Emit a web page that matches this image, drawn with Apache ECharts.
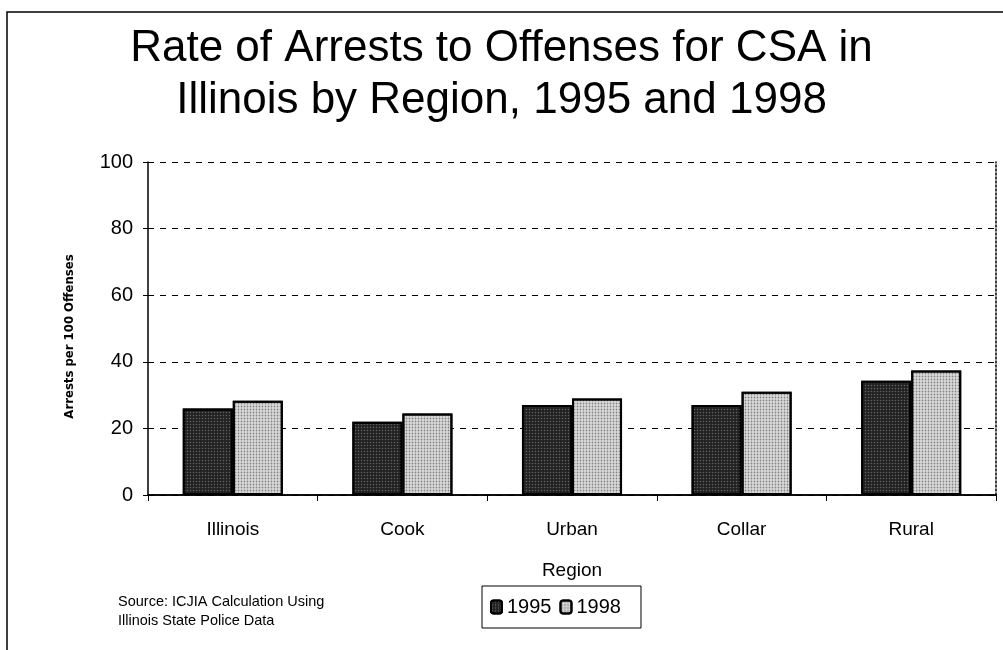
<!DOCTYPE html>
<html>
<head>
<meta charset="utf-8">
<script src="https://cdn.jsdelivr.net/npm/echarts@6/dist/echarts.min.js"></script>
<style>
	html, body { margin: 0; padding: 0; background: #fff; }
	#chart { width: 1003px; height: 650px; }
</style>
</head>
<body>
<div id="chart"></div>
<script>
// 数据
var regions = ['Illinois', 'Cook', 'Urban', 'Collar', 'Rural'];
var rate1995 = [26, 22, 27, 27, 34.3];
var rate1998 = [28.3, 24.5, 29, 31, 37.4];
var yTicks = [0, 20, 40, 60, 80, 100];

var font = 'Liberation Sans, Arial, sans-serif';
var chart = echarts.init(document.getElementById('chart'));

var option = {
	backgroundColor: '#fff',
	animation: false,
	title: {
		text: 'Rate of Arrests to Offenses for CSA in\nIllinois by Region, 1995 and 1998',
		left: 'center',
		top: 18,
		padding: [5, 5, 5, 33], // 标题略向右偏
		textStyle: {
			fontFamily: font,
			fontWeight: 'normal',
			fontSize: 44,
			lineHeight: 52,
			color: '#000'
		}
	},
	legend: {
		left: 482,
		top: 586,
		icon: 'roundRect',
		itemWidth: 11,
		itemHeight: 13,
		itemGap: 8,
		padding: [11, 20, 11, 8],
		borderColor: '#000',
		borderWidth: 1,
		textStyle: { fontFamily: font, fontSize: 20, color: '#000' },
		data: ['1995', '1998']
	},
	grid: { left: 148, right: 7, top: 162, bottom: 155 },
	xAxis: [{
		type: 'category',
		data: regions,
		name: 'Region',
		nameLocation: 'middle',
		nameGap: 66,
		nameTextStyle: { fontFamily: font, fontSize: 19, color: '#000' },
		axisLine: { lineStyle: { color: '#000', width: 1.5 } },
		axisTick: { show: true, length: 6, lineStyle: { color: '#000' } },
		axisLabel: { fontFamily: font, fontSize: 19, color: '#000', margin: 25 }
	}, {
		type: 'category',
		position: 'top',
		data: regions,
		axisLine: { lineStyle: { color: '#000', width: 1.5 } },
		axisTick: { show: false },
		axisLabel: { show: false }
	}],
	yAxis: [{
		type: 'value',
		min: yTicks[0],
		max: yTicks[yTicks.length - 1],
		interval: 20,
		name: 'Arrests per 100 Offenses',
		nameLocation: 'middle',
		nameGap: 72,
		nameTextStyle: {
			fontFamily: 'DejaVu Sans Condensed, DejaVu Sans, sans-serif',
			fontSize: 13,
			fontWeight: 'bold',
			color: '#000',
			padding: [0, 0, 0, -16]
		},
		axisLine: { show: true, lineStyle: { color: '#000', width: 1.5 } },
		axisTick: { show: true, inside: false, length: 5, lineStyle: { color: '#000' } },
		axisLabel: { fontFamily: font, fontSize: 20, color: '#000', margin: 15 },
		splitLine: { lineStyle: { color: '#000', type: [6, 6], width: 1 } }
	}, {
		type: 'value',
		position: 'right',
		min: yTicks[0],
		max: yTicks[yTicks.length - 1],
		interval: 20,
		axisLine: { show: true, lineStyle: { color: '#000', type: [2, 2], width: 1.5 } },
		axisTick: { show: false },
		axisLabel: { show: false },
		splitLine: { show: false }
	}],
	series: [{
		name: '1995',
		type: 'bar',
		data: rate1995,
		barGap: '0%',
		barCategoryGap: '41%',
		itemStyle: {
			color: '#222',
			borderColor: '#000',
			borderWidth: 2,
			decal: { symbol: 'circle', symbolSize: 0.5, dashArrayX: [3, 0], dashArrayY: [3, 0], color: 'rgba(255,255,255,0.3)' }
		}
	}, {
		name: '1998',
		type: 'bar',
		data: rate1998,
		itemStyle: {
			color: '#dcdcdc',
			borderColor: '#000',
			borderWidth: 2,
			decal: { symbol: 'circle', symbolSize: 0.6, dashArrayX: [3, 0], dashArrayY: [3, 0], color: 'rgba(0,0,0,0.4)' }
		}
	}],
	graphic: [{
		type: 'polyline',
		shape: { points: [[7, 650], [7, 12], [1003, 12]] },
		style: { stroke: '#000', lineWidth: 1.5, fill: null }
	}, {
		type: 'text',
		left: 118,
		top: 592,
		style: {
			text: 'Source: ICJIA Calculation Using\nIllinois State Police Data',
			font: '14.5px Liberation Sans, Arial, sans-serif',
			lineHeight: 19,
			fill: '#000'
		}
	}]
};

chart.setOption(option);
</script>
</body>
</html>
